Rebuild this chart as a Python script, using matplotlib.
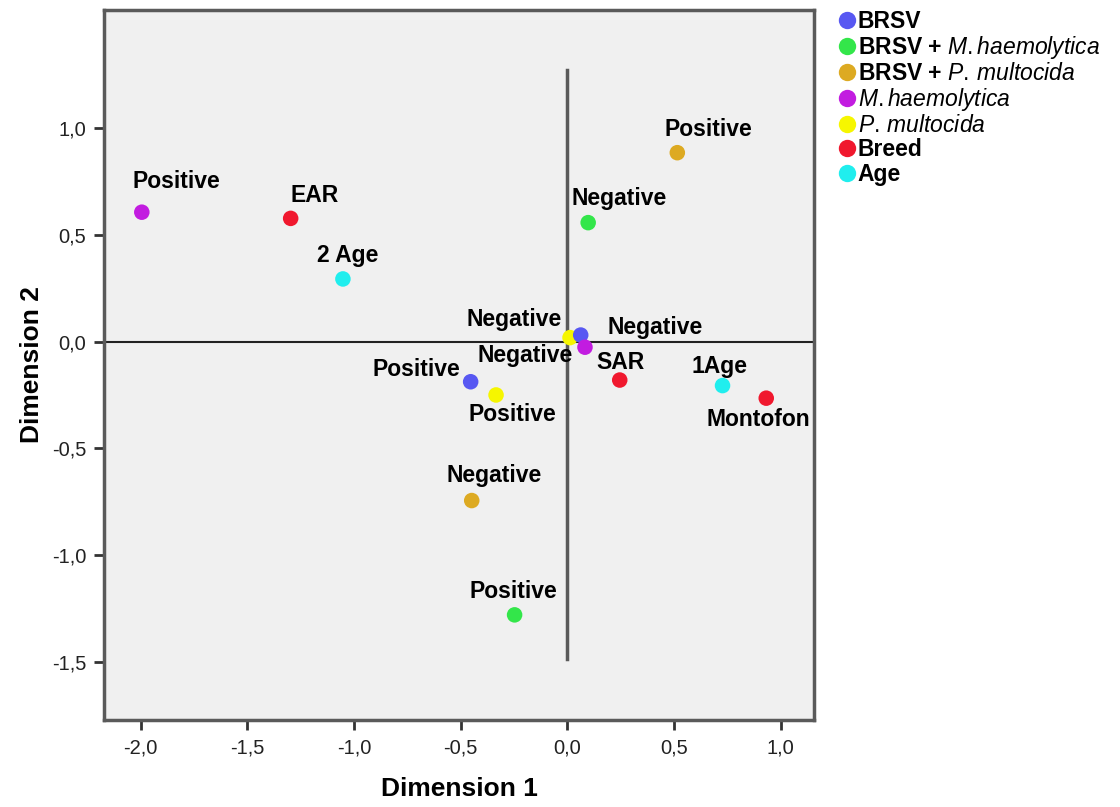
import matplotlib.pyplot as plt
from matplotlib.lines import Line2D

plt.rcParams['font.family'] = ['Liberation Sans', 'DejaVu Sans']
plt.rcParams['mathtext.fontset'] = 'custom'
plt.rcParams['mathtext.rm'] = 'Liberation Sans'
plt.rcParams['mathtext.it'] = 'Liberation Sans:italic'
plt.rcParams['mathtext.bf'] = 'Liberation Sans:bold'

# groups (legend order)
groups = ["BRSV", "BRSV + M.haemolytica", "BRSV + P. multocida",
          "M.haemolytica", "P. multocida", "Breed", "Age"]
legend_labels = ["BRSV",
                 r"BRSV + $\mathit{M.haemolytica}$",
                 r"BRSV + $\mathit{P.\,multocida}$",
                 r"$\mathit{M.haemolytica}$",
                 r"$\mathit{P.\,multocida}$",
                 "Breed",
                 "Age"]
colors = ["#5858F2", "#33E64A", "#DDAA22", "#C21CE0", "#F6F600", "#F0182E", "#20EEEE"]

# category points: group, label, dim1, dim2
pt_group = ["M.haemolytica", "Breed", "Age", "BRSV + P. multocida", "BRSV + M.haemolytica",
            "P. multocida", "BRSV", "M.haemolytica", "Breed", "Age", "Breed",
            "BRSV", "P. multocida", "BRSV + P. multocida", "BRSV + M.haemolytica"]
pt_label = ["Positive", "EAR", "2 Age", "Positive", "Negative",
            "Negative", "Negative", "Negative", "SAR", "1Age", "Montofon",
            "Positive", "Positive", "Negative", "Positive"]
dim1 = [-1.995, -1.297, -1.052, 0.516, 0.098,
        0.013, 0.063, 0.083, 0.246, 0.728, 0.933,
        -0.453, -0.334, -0.448, -0.247]
dim2 = [0.607, 0.578, 0.294, 0.886, 0.558,
        0.019, 0.031, -0.026, -0.180, -0.206, -0.265,
        -0.188, -0.250, -0.745, -1.281]
# label offsets in pixels (text centre relative to point)
lab_dx = [35, 24, 5, 31, 31, -56, 74, -60, 1, -3, -8, -54, 16, 22, -1]
lab_dy = [31, 23, 23, 23, 24, 18, 8, -8, 18, 19, -21, 12, -20, 25, 23]

x_ticks = [-2.0, -1.5, -1.0, -0.5, 0.0, 0.5, 1.0]
x_tick_labels = ["-2,0", "-1,5", "-1,0", "-0,5", "0,0", "0,5", "1,0"]
y_ticks = [1.0, 0.5, 0.0, -0.5, -1.0, -1.5]
y_tick_labels = ["1,0", "0,5", "0,0", "-0,5", "-1,0", "-1,5"]

fig = plt.figure(figsize=(11.2, 8.07), dpi=100)
ax = fig.add_axes([0.0931, 0.1078, 0.6337, 0.8798])
ax.set_facecolor("#F0F0F0")
ax.set_xlim(-2.171, 1.157)
ax.set_ylim(-1.774, 1.555)

ax.axhline(0, color="#222222", lw=1.5, zorder=1)
ax.plot([0, 0], [1.274, -1.49], color="#5a5a5a", lw=2.5, zorder=1)

col = dict(zip(groups, colors))
for g, lab, x, y, dx, dy in zip(pt_group, pt_label, dim1, dim2, lab_dx, lab_dy):
    ax.scatter(x, y, s=125, color=col[g], edgecolors="none", zorder=3)
    ax.annotate(lab, (x, y), xytext=(dx, dy), textcoords="offset pixels",
                ha="center", va="center", fontsize=16.5, fontweight="bold", zorder=4)

ax.set_xticks(x_ticks)
ax.set_xticklabels(x_tick_labels, fontsize=14.5, color="#222222")
ax.set_yticks(y_ticks)
ax.set_yticklabels(y_tick_labels, fontsize=14.5, color="#222222")
ax.tick_params(length=7, width=2, color="#333333", pad=6)
for s in ax.spines.values():
    s.set_color("#5a5a5a")
    s.set_linewidth(2.5)

ax.set_xlabel("Dimension 1", fontsize=19, fontweight="bold", labelpad=14)
ax.set_ylabel("Dimension 2", fontsize=19, fontweight="bold", labelpad=6)

handles = [Line2D([], [], marker="o", ls="none", markersize=12.5, color=c, markeredgewidth=0)
           for c in colors]
fig.legend(handles, legend_labels, loc="upper left", bbox_to_anchor=(0.735, 1.005),
           frameon=False, prop={"size": 16.5, "weight": "bold"}, handletextpad=0.0,
           labelspacing=0.05, handlelength=0.9, borderaxespad=0.2)

fig.savefig("out.png", dpi=100)
